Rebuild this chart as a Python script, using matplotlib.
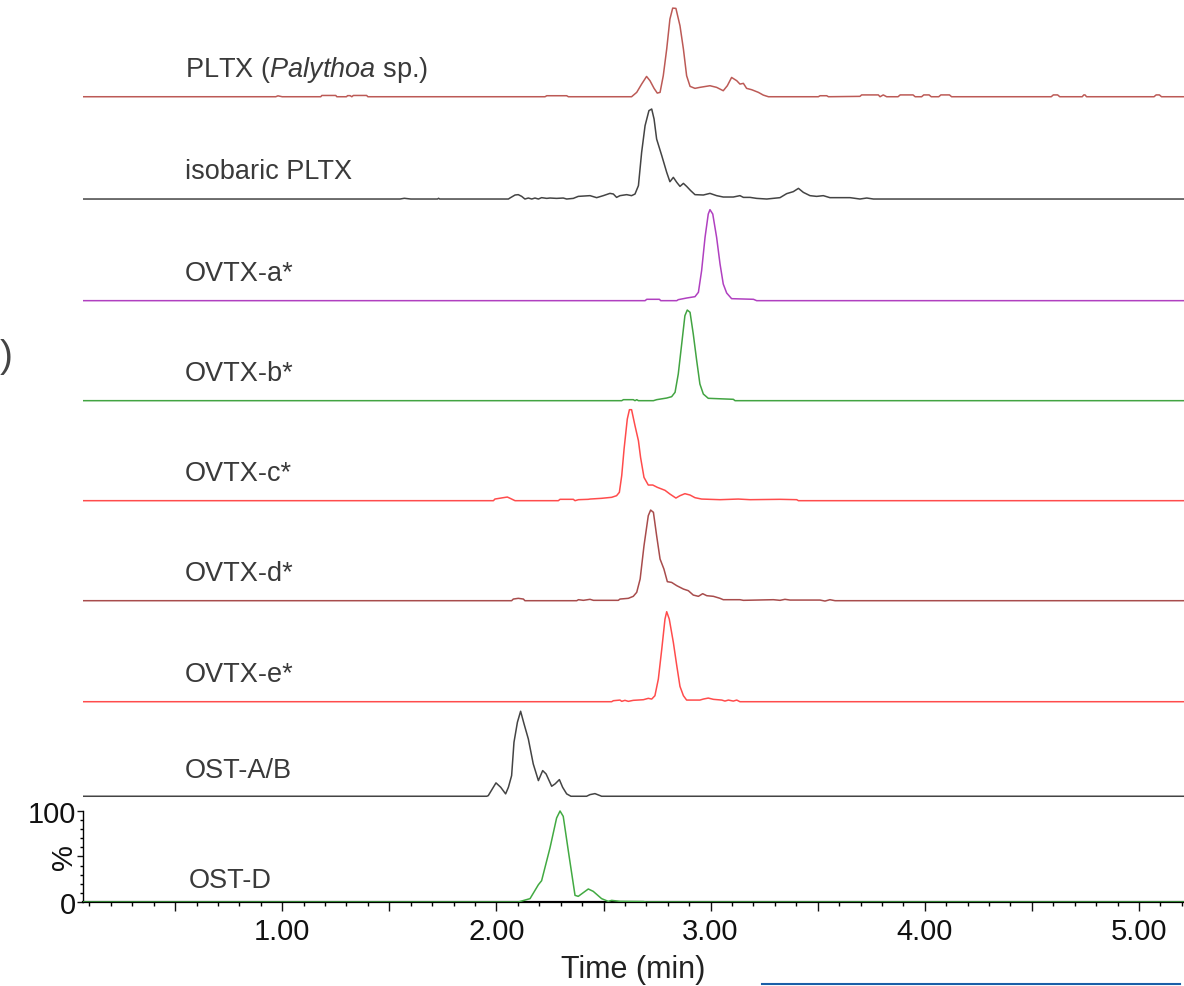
import matplotlib
matplotlib.use("Agg")
import matplotlib.pyplot as plt
from matplotlib.ticker import MultipleLocator, FixedLocator, FuncFormatter
from matplotlib.transforms import blended_transform_factory
from matplotlib.lines import Line2D

# retention time (min) and relative intensity (%)
pltx_t = [0.07, 0.97, 0.98, 1.0, 1.18, 1.185, 1.25, 1.255, 1.30, 1.305, 1.317, 1.325, 1.332, 1.394, 1.40,
          2.227, 2.235, 2.328, 2.336, 2.631, 2.655, 2.678, 2.701, 2.717, 2.736, 2.751, 2.764, 2.779, 2.795,
          2.810, 2.823, 2.838, 2.857, 2.873, 2.888, 2.904, 2.927, 2.950, 2.997, 3.028, 3.059, 3.078, 3.098,
          3.122, 3.137, 3.153, 3.168, 3.192, 3.223, 3.246, 3.270, 3.503, 3.511, 3.542, 3.550, 3.697, 3.705,
          3.783, 3.791, 3.806, 3.822, 3.875, 3.885, 3.945, 3.955, 3.985, 3.995, 4.02, 4.03, 4.065, 4.075,
          4.115, 4.125, 4.59, 4.60, 4.62, 4.63, 4.735, 4.742, 4.748, 4.755, 5.07, 5.08, 5.095, 5.105, 5.21]
pltx_i = [0, 0, 1.0, 0, 0, 1.4, 1.4, 0, 0, 1.2, 1.2, 0, 1.4, 1.4, 0,
          0, 1.1, 1.1, 0, 0, 4.8, 13.9, 22.3, 17.6, 9.2, 4.0, 4.8, 23.1, 52.4,
          85.3, 97.4, 97.1, 78.0, 52.4, 23.1, 11.4, 9.2, 10.3, 12.1, 10.3, 6.6, 12.1, 21.2,
          17.6, 13.9, 14.7, 9.2, 7.7, 4.8, 1.8, 0, 0, 1.1, 1.1, 0, 0.4, 2.0,
          2.0, 0, 2.0, 0, 0, 2.0, 2.0, 0, 0, 2.0, 2.0, 0, 0, 2.0,
          2.0, 0, 0, 2.0, 2.0, 0, 0, 2.0, 2.0, 0, 0, 2.0, 2.0, 0, 0]

iso_t = [0.07, 1.55, 1.57, 1.60, 1.725, 1.73, 1.735, 2.056, 2.063, 2.087, 2.102, 2.118, 2.133, 2.149, 2.165,
         2.180, 2.196, 2.211, 2.235, 2.250, 2.281, 2.312, 2.328, 2.359, 2.382, 2.437, 2.468, 2.499, 2.530,
         2.546, 2.561, 2.577, 2.608, 2.631, 2.647, 2.663, 2.678, 2.694, 2.712, 2.725, 2.736, 2.748, 2.772,
         2.795, 2.810, 2.826, 2.842, 2.857, 2.873, 2.888, 2.907, 2.927, 2.966, 2.997, 3.028, 3.059, 3.106,
         3.137, 3.153, 3.184, 3.215, 3.262, 3.324, 3.355, 3.386, 3.410, 3.433, 3.464, 3.495, 3.526, 3.557,
         3.651, 3.697, 3.729, 3.760, 5.21]
iso_i = [0, 0, 0.8, 0, 0, 0.8, 0, 0, 1.1, 4.4, 4.8, 2.9, 0, 1.1, 0,
         1.1, 0, 1.5, 0.7, 1.1, 0.7, 1.1, 0, 0.7, 2.9, 3.7, 1.5, 3.7, 6.2,
         5.5, 1.8, 3.7, 4.8, 3.7, 5.5, 14.7, 51.3, 80.6, 97.1, 98.9, 87.9, 65.9, 47.6,
         29.3, 19.0, 23.8, 18.3, 13.9, 17.2, 13.9, 9.2, 4.8, 4.4, 6.2, 3.7, 2.2, 2.2,
         3.7, 1.8, 1.8, 0.7, 0, 1.5, 5.9, 8.1, 11.7, 7.3, 3.7, 2.9, 3.7, 1.5,
         1.5, 0, 1.1, 0, 0]

ovtx_a_t = [0.07, 2.694, 2.702, 2.761, 2.767, 2.842, 2.849, 2.888, 2.927, 2.943, 2.958, 2.974, 2.989, 2.997,
            3.010, 3.028, 3.044, 3.059, 3.075, 3.098, 3.200, 3.215, 5.21]
ovtx_a_i = [0, 0, 1.5, 1.5, 0, 0, 1.1, 2.9, 4.4, 9.2, 33.0, 69.6, 95.2, 100,
            95.2, 69.6, 40.3, 18.3, 8.4, 2.2, 1.5, 0, 0]

ovtx_b_t = [0.07, 2.585, 2.593, 2.639, 2.647, 2.655, 2.663, 2.733, 2.748, 2.795, 2.818, 2.834, 2.849, 2.865,
            2.880, 2.891, 2.904, 2.919, 2.935, 2.950, 2.966, 2.989, 3.106, 3.114, 5.21]
ovtx_b_i = [0, 0, 1.1, 1.1, 0, 1.1, 0, 0, 1.1, 2.9, 4.4, 9.2, 29.3, 62.3,
            93.4, 99.6, 97.1, 73.3, 44.0, 18.3, 7.3, 2.6, 1.5, 0, 0]

ovtx_c_t = [0.07, 1.986, 1.993, 2.032, 2.051, 2.064, 2.087, 2.289, 2.297, 2.359, 2.367, 2.383, 2.429, 2.437,
            2.491, 2.538, 2.561, 2.574, 2.585, 2.596, 2.611, 2.621, 2.631, 2.647, 2.663, 2.673, 2.689, 2.709,
            2.730, 2.751, 2.787, 2.810, 2.838, 2.857, 2.880, 2.904, 2.927, 2.958, 3.044, 3.129, 3.184, 3.324,
            3.402, 3.410, 5.21]
ovtx_c_i = [0, 0, 1.8, 3.3, 4.0, 2.6, 0, 0, 1.5, 1.5, 0, 1.1, 1.5, 1.8,
            2.6, 3.7, 5.5, 9.2, 27.5, 56.8, 89.7, 100, 100, 82.4, 65.9, 47.6, 25.6, 17.2,
            17.2, 14.7, 11.4, 7.3, 2.9, 5.5, 7.7, 6.2, 3.3, 1.8, 1.1, 1.8, 1.1, 1.5,
            1.1, 0, 0]

ovtx_d_t = [0.07, 2.071, 2.079, 2.102, 2.126, 2.133, 2.375, 2.383, 2.406, 2.437, 2.453, 2.569, 2.577, 2.616,
            2.639, 2.655, 2.671, 2.689, 2.709, 2.720, 2.733, 2.748, 2.764, 2.782, 2.798, 2.818, 2.842, 2.873,
            2.896, 2.919, 2.943, 2.963, 2.982, 3.013, 3.044, 3.059, 3.137, 3.153, 3.293, 3.324, 3.347, 3.371,
            3.511, 3.534, 3.557, 3.581, 5.21]
ovtx_d_i = [0, 0, 1.8, 2.6, 1.8, 0, 0, 1.1, 0.4, 1.5, 0.4, 0.4, 1.8, 2.6,
            4.8, 9.2, 23.8, 60.4, 93.4, 99.6, 97.1, 71.4, 45.8, 34.8, 20.9, 20.1, 16.5, 12.8,
            11.0, 6.2, 4.8, 7.7, 5.5, 4.8, 2.6, 1.1, 1.1, 0.4, 1.1, 0.4, 1.5, 0.7,
            0.7, -0.4, 1.1, 0, 0]

ovtx_e_t = [0.07, 2.538, 2.546, 2.577, 2.585, 2.600, 2.616, 2.639, 2.686, 2.709, 2.725, 2.740, 2.756, 2.772,
            2.787, 2.795, 2.807, 2.826, 2.842, 2.857, 2.873, 2.888, 2.950, 2.966, 2.989, 3.013, 3.052, 3.067,
            3.083, 3.106, 3.122, 3.137, 5.21]
ovtx_e_i = [0, 0, 1.1, 1.8, 0.4, 1.5, 0.4, 1.5, 2.2, 3.7, 2.9, 6.6, 24.9, 57.9,
            90.8, 98.9, 90.8, 65.2, 39.6, 16.8, 6.6, 1.8, 1.8, 2.9, 4.0, 2.6, 1.8, 0.7,
            1.8, 0.7, 1.8, 0, 0]

ost_ab_t = [0.07, 1.955, 1.962, 1.998, 2.020, 2.043, 2.056, 2.071, 2.082, 2.098, 2.113, 2.129, 2.149, 2.172,
            2.196, 2.216, 2.232, 2.258, 2.274, 2.294, 2.309, 2.328, 2.348, 2.421, 2.437, 2.460, 2.484, 2.491,
            5.21]
ost_ab_i = [0, 0, 0.7, 14.7, 9.9, 2.6, 9.9, 22.7, 59.3, 81.3, 93.4, 79.5, 63.0, 35.5,
            17.2, 28.2, 24.5, 11.0, 13.6, 18.3, 9.9, 2.6, 0, 0, 1.8, 2.9, 0.7, 0,
            0]

ost_d_t = [0.07, 2.102, 2.157, 2.196, 2.211, 2.250, 2.281, 2.297, 2.312, 2.336, 2.367, 2.382, 2.429, 2.452,
           2.491, 2.522, 2.538, 2.577, 2.686, 2.70, 5.21]
ost_d_i = [0, 0, 3.7, 19.0, 23.4, 59.3, 92.3, 100, 94.1, 55.7, 7.3, 6.2, 14.3, 11.7,
           3.7, 0.7, 1.8, 0.7, 0.5, 0, 0]

names = ["PLTX", "isobaric PLTX", "OVTX-a*", "OVTX-b*", "OVTX-c*", "OVTX-d*", "OVTX-e*", "OST-A/B", "OST-D"]
times = [pltx_t, iso_t, ovtx_a_t, ovtx_b_t, ovtx_c_t, ovtx_d_t, ovtx_e_t, ost_ab_t, ost_d_t]
intens = [pltx_i, iso_i, ovtx_a_i, ovtx_b_i, ovtx_c_i, ovtx_d_i, ovtx_e_i, ost_ab_i, ost_d_i]

# layout: vertical offset of each trace (in % of the bottom axis) and colours
offsets = [884.9, 772.5, 660.8, 550.9, 441.0, 331.1, 220.1, 116.2, 0.0]
label_dy = [23, 23, 23, 23, 23, 23, 23, 21, 17]
colors = ["#bc5a56", "#444444", "#b040c0", "#42a442", "#ff4c4c", "#a84c4c", "#ff4c4c", "#444444", "#42aa42"]

plt.rcParams["font.family"] = ["Liberation Sans", "DejaVu Sans"]
plt.rcParams["mathtext.fontset"] = "custom"
plt.rcParams["mathtext.it"] = "Liberation Sans:italic"
plt.rcParams["mathtext.rm"] = "Liberation Sans"

fig = plt.figure(figsize=(11.84, 9.87), dpi=100)
ax = fig.add_axes([83 / 1184, 84 / 987, 1101 / 1184, 903 / 987])

for name, t, inten, off, dy, col in zip(names, times, intens, offsets, label_dy, colors):
    ax.plot(t, [v + off for v in inten], color=col, lw=1.1, zorder=3)
    label = r"PLTX ($\mathit{Palythoa}$ sp.)" if name == "PLTX" else name
    lx = 0.562 if name == "OST-D" else 0.546
    ax.text(lx, off + dy, label, fontsize=19.5, color="#3a3a3a", va="baseline", ha="left")

ax.set_xlim(0.07, 5.21)
ax.set_ylim(0, 992.3)

for s in ["top", "right"]:
    ax.spines[s].set_visible(False)
ax.spines["left"].set_bounds(0, 100)
ax.spines["left"].set_linewidth(1.0)
ax.spines["bottom"].set_linewidth(1.6)

ax.xaxis.set_major_locator(MultipleLocator(0.5))
ax.xaxis.set_minor_locator(MultipleLocator(0.1))
ax.xaxis.set_major_formatter(FuncFormatter(lambda v, p: f"{v:.2f}" if abs(v - round(v)) < 1e-6 else ""))
ax.yaxis.set_major_locator(FixedLocator([0, 50, 100]))
ax.yaxis.set_minor_locator(FixedLocator(list(range(10, 100, 10))))
ax.yaxis.set_major_formatter(FuncFormatter(lambda v, p: "" if v == 50 else f"{v:.0f}"))
ax.tick_params(axis="x", which="major", length=6.5, width=1.0, labelsize=21, pad=4, colors="#111111")
ax.tick_params(axis="x", which="minor", length=3, width=1.0)
ax.tick_params(axis="y", which="major", length=4, width=1.0, labelsize=21, pad=1, colors="#111111")
ax.tick_params(axis="y", which="minor", length=2.5, width=1.0)

ax.set_xlabel("Time (min)", fontsize=22, color="#222222", labelpad=6.5)
trans = blended_transform_factory(ax.transAxes, ax.transData)
ax.text(-0.017, 50, "%", rotation=90, fontsize=21, color="#111111", ha="center", va="center",
        transform=trans)

# stray bits cropped in the original figure
fig.text(0.0, 1 - 357 / 987, ")", fontsize=28, color="#444444", ha="left", va="center")
fig.add_artist(Line2D([762 / 1184, 1180 / 1184], [1 - 985 / 987] * 2, color="#1a5fa8", lw=1.5))

fig.savefig("out.png", dpi=100)
